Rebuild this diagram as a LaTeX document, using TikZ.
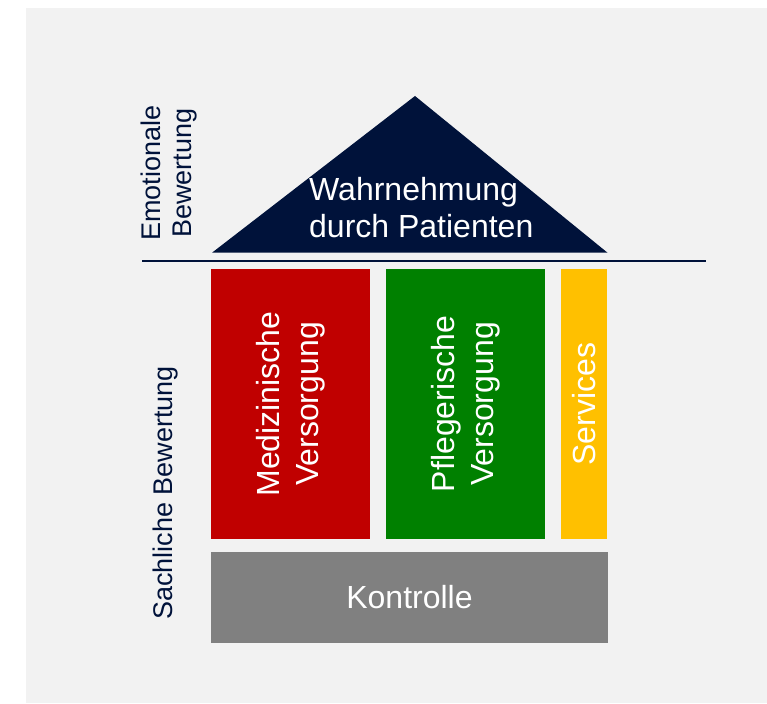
\documentclass[tikz,border=0pt]{standalone}
\usepackage{fontspec}
\setmainfont{Liberation Sans}
\definecolor{hausnavy}{RGB}{0, 18, 58}
\definecolor{hausred}{RGB}{192, 0, 0}
\definecolor{hausgreen}{RGB}{0, 128, 0}
\definecolor{hausyellow}{RGB}{255, 192, 0}
\definecolor{hausgray}{RGB}{128, 128, 128}
\definecolor{hausbg}{RGB}{242, 242, 242}
\usetikzlibrary{positioning}

\begin{document}
\begin{tikzpicture}[x=1pt, y=-1pt,
		pillar/.style={inner sep=0pt, text=white, font=\fontsize{32}{39}\selectfont, align=center},
		seite/.style={inner sep=0pt, text=hausnavy, font=\fontsize{27}{31}\selectfont, align=center, rotate=90}]
			
			\useasboundingbox (0,0) rectangle (767,703);
			% Background
			\fill [hausbg] (26,8) rectangle (767,703);
			
			% Roof
			\fill [hausnavy] (212,252.7) -- (415,96) -- (607.5,252.7) -- cycle;
			\node [pillar, font=\fontsize{32}{37}\selectfont, align=left, anchor=north west] (dach) at (309,176.7) {Wahrnehmung\\durch Patienten};
			\draw [hausnavy, line width=2.2] (142,261) -- (706,261);
			
			% Pillars
			\foreach \name/\x/\w/\farbe/\txt in {medizin/290.5/159/hausred/{Medizinische\\Versorgung},
				pflege/465.5/159/hausgreen/{Pflegerische\\Versorgung},
				service/584/46/hausyellow/{Services}}
			{
				\node [pillar, fill=\farbe, rotate=90, minimum width=270, minimum height=\w] (\name) at (\x,404) {\txt};
			}
			
			% Base
			\node [pillar, fill=hausgray, minimum width=397, minimum height=91] (kontrolle) at (409.5,597.5) {Kontrolle};
			
			% Side labels
			\node [seite] (emotional) at (169,173) {Emotionale\\Bewertung};
			\node [seite] (sachlich) at (166,493) {Sachliche Bewertung};
			
		\end{tikzpicture}
\end{document}
